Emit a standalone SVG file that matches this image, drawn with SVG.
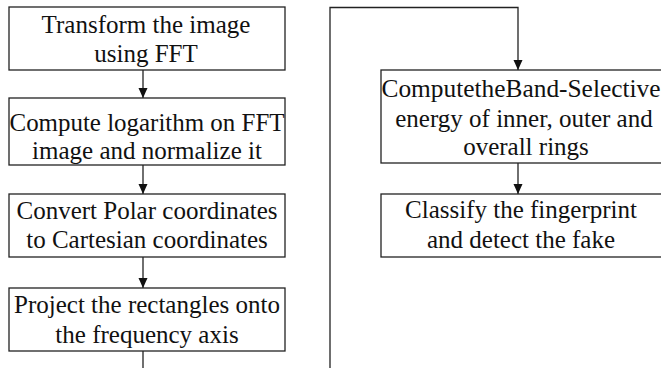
<svg xmlns="http://www.w3.org/2000/svg" width="661" height="368" viewBox="0 0 661 368">
<style>
.box{fill:#fff;stroke:#222;stroke-width:1.3}
.t{font-family:'Liberation Serif','Times New Roman',serif;font-size:25px;fill:#111;text-anchor:middle}
.c{fill:none;stroke:#222;stroke-width:1.3}
</style>
<defs>
<marker id="ah" viewBox="0 0 10 10" refX="10" refY="5" markerWidth="10" markerHeight="10" markerUnits="userSpaceOnUse" orient="auto">
<path d="M0,0.5 L10,5 L0,9.5 Z" fill="#111"/>
</marker>
</defs>
<rect width="661" height="368" fill="#fff"/>
<g id="connectors">
<line class="c" x1="143" y1="70" x2="143" y2="98" marker-end="url(#ah)"/>
<line class="c" x1="143" y1="165" x2="143" y2="194" marker-end="url(#ah)"/>
<line class="c" x1="143" y1="257" x2="143" y2="288" marker-end="url(#ah)"/>
<line class="c" x1="143" y1="351" x2="143" y2="369"/>
<polyline class="c" points="330,369 330,7.5 518,7.5 518,70" marker-end="url(#ah)"/>
<line class="c" x1="518" y1="163" x2="518" y2="194" marker-end="url(#ah)"/>
</g>
<g id="n1">
<rect class="box" x="9" y="7" width="276" height="63"/>
<text class="t" x="146" y="33">Transform the image</text>
<text class="t" x="146" y="62">using FFT</text>
</g>
<g id="n2">
<rect class="box" x="9" y="98" width="276" height="67"/>
<text class="t" x="147" y="131" textLength="275" lengthAdjust="spacingAndGlyphs">Compute logarithm on FFT</text>
<text class="t" x="147" y="159">image and normalize it</text>
</g>
<g id="n3">
<rect class="box" x="9" y="194" width="276" height="63"/>
<text class="t" x="147" y="219">Convert Polar coordinates</text>
<text class="t" x="147" y="248">to Cartesian coordinates</text>
</g>
<g id="n4">
<rect class="box" x="9" y="288" width="276" height="63"/>
<text class="t" x="147" y="313">Project the rectangles onto</text>
<text class="t" x="147" y="343">the frequency axis</text>
</g>
<g id="n5">
<rect class="box" x="381" y="70" width="284" height="93"/>
<text class="t" x="521" y="97" textLength="279" lengthAdjust="spacingAndGlyphs">ComputetheBand-Selective</text>
<text class="t" x="524" y="127">energy of inner, outer and</text>
<text class="t" x="526" y="155">overall rings</text>
</g>
<g id="n6">
<rect class="box" x="381" y="194" width="284" height="63"/>
<text class="t" x="521" y="218">Classify the fingerprint</text>
<text class="t" x="521" y="248">and detect the fake</text>
</g>
</svg>
